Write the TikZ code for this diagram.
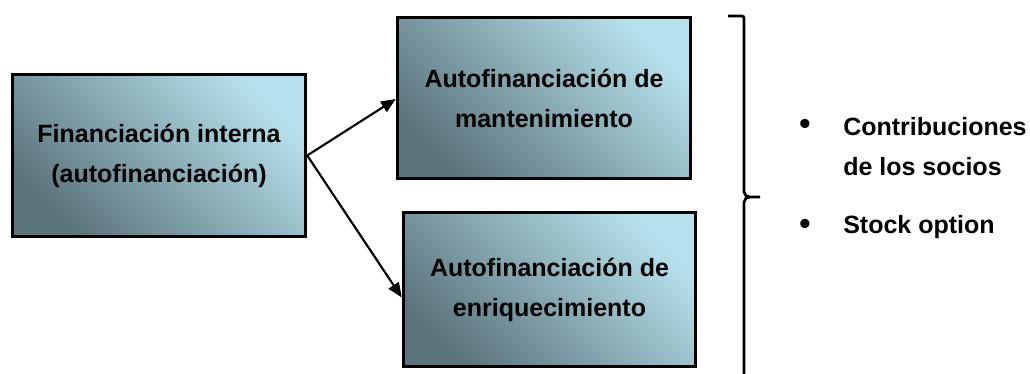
\documentclass[tikz,border=0pt]{standalone}
\usepackage{fontspec}
\setmainfont{Liberation Sans}
\usetikzlibrary{arrows.meta}
\definecolor{boxdark}{RGB}{92,116,124}
\definecolor{boxlight}{RGB}{182,225,236}
\tikzset{
  box/.style={draw=black, line width=2.6pt, top color=boxlight, bottom color=boxdark, shading angle=-45,
    align=center, inner sep=0pt,
    font=\bfseries\fontsize{18.75}{30}\selectfont},
  conn/.style={line width=1.6pt, -{Triangle[length=11pt,width=9pt]}},
  bulletdot/.style={font=\bfseries\fontsize{24}{30}\selectfont, inner sep=0pt},
  itemtext/.style={font=\bfseries\fontsize{18.75}{30}\selectfont, align=left, inner sep=0pt, anchor=west},
  bracket/.style={line width=2pt}
}
\begin{document}
\begin{tikzpicture}[x=0.75pt,y=-0.75pt]
\useasboundingbox (0,0) rectangle (1030,374);
\node[box, minimum width=293*0.75pt, minimum height=162*0.75pt] (L) at (159,155.5) {Financiación interna\\(autofinanciación)};
\node[box, minimum width=293*0.75pt, minimum height=161*0.75pt] (T) at (544,98) {Autofinanciación de\\mantenimiento};
\node[box, minimum width=292*0.75pt, minimum height=154*0.75pt] (B) at (549.5,289.5) {Autofinanciación de\\enriquecimiento};
\draw[conn] (L.east) -- ([yshift=-1*0.75pt]T.west);
\draw[conn] (L.east) -- ([yshift=-8*0.75pt]B.west);
% bracket
\coordinate (bt) at (728,16);
\coordinate (bm) at (760,197);
\coordinate (bb) at (744,376);
\draw[bracket] (bt) -- (742,16) to[out=0,in=90] (744,18) -- (744,192) to[out=-90,in=180] (750,197) -- (bm);
\draw[bracket] (bb) -- (744,202) to[out=90,in=180] (750,197);
% bullets
\node[bulletdot] (d1) at (805,127) {•};
\node[itemtext] (t1) at (843,147) {Contribuciones\\de los socios};
\node[bulletdot] (d2) at (805,227) {•};
\node[itemtext] (t2) at (843,227) {Stock option};
\end{tikzpicture}
\end{document}
